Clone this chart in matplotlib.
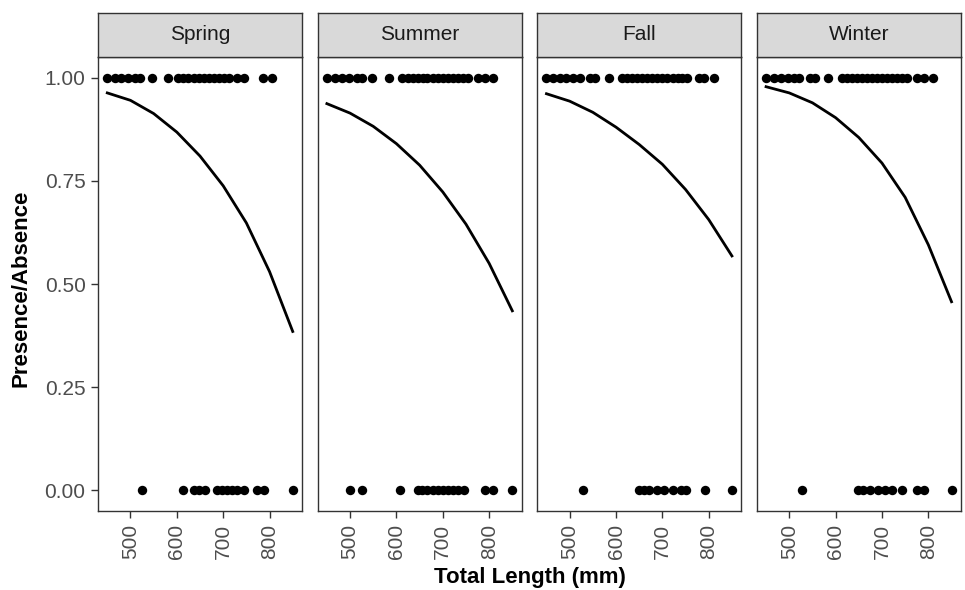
import matplotlib
matplotlib.use("Agg")
import matplotlib.pyplot as plt

plt.rcParams['font.family'] = ['Liberation Sans', 'DejaVu Sans']

seasons = ["Spring", "Summer", "Fall", "Winter"]

# total length (mm) of fish present (1) / absent (0)
present = {
    "Spring": [450, 466, 480, 495, 509, 520, 546, 582, 603, 614, 625, 636, 647, 658,
               669, 680, 690, 701, 712, 730, 745, 785, 806],
    "Summer": [450, 468, 483, 497, 515, 526, 548, 584, 613, 624, 635, 646, 657, 667,
               678, 689, 700, 711, 722, 733, 743, 754, 776, 790, 809],
    "Fall": [450, 464, 479, 493, 508, 522, 544, 555, 584, 613, 624, 635, 646, 657,
             667, 678, 689, 700, 711, 722, 733, 743, 754, 780, 790, 811],
    "Winter": [450, 468, 483, 497, 511, 522, 544, 555, 584, 613, 624, 635, 646, 657,
               667, 678, 689, 700, 711, 722, 733, 743, 754, 776, 790, 811],
}
absent = {
    "Spring": [524, 613, 636, 647, 661, 686, 697, 708, 719, 730, 745, 774, 788, 850],
    "Summer": [499, 526, 608, 646, 656, 667, 678, 689, 700, 711, 722, 733, 746, 790, 809, 850],
    "Fall": [528, 649, 660, 671, 689, 703, 722, 740, 751, 792, 850],
    "Winter": [528, 649, 660, 674, 692, 707, 722, 743, 776, 790, 850],
}

# fitted curve, read at these lengths
fit_x = [450, 500, 550, 600, 650, 700, 750, 800, 850]
fit_y = {
    "Spring": [0.963, 0.945, 0.913, 0.868, 0.810, 0.738, 0.648, 0.530, 0.385],
    "Summer": [0.937, 0.914, 0.882, 0.840, 0.788, 0.723, 0.645, 0.550, 0.435],
    "Fall": [0.961, 0.943, 0.916, 0.880, 0.838, 0.790, 0.729, 0.656, 0.568],
    "Winter": [0.978, 0.963, 0.939, 0.903, 0.855, 0.793, 0.710, 0.595, 0.457],
}

y_ticks = [0.0, 0.25, 0.5, 0.75, 1.0]
y_labels = ["0.00", "0.25", "0.50", "0.75", "1.00"]
x_ticks = [500, 600, 700, 800]

W, H = 965, 590
fig = plt.figure(figsize=(W / 100, H / 100), dpi=100)

edge = "#333333"
tick_col = "#4D4D4D"
fs = 15
for i, s in enumerate(seasons):
    left = 98 + i * 219.6
    ax = fig.add_axes([left / W, 1 - 511 / H, 204 / W, 454 / H])
    ax.scatter(present[s], [1] * len(present[s]), s=46, color="black", lw=0, zorder=3)
    ax.scatter(absent[s], [0] * len(absent[s]), s=46, color="black", lw=0, zorder=3)
    ax.plot(fit_x, fit_y[s], color="black", lw=2.0, solid_joinstyle="round")
    ax.set_xlim(430, 870)
    ax.set_ylim(-0.05, 1.05)
    ax.set_xticks(x_ticks)
    ax.set_xticklabels([str(t) for t in x_ticks], rotation=90, fontsize=fs, color=tick_col)
    ax.set_yticks(y_ticks)
    if i == 0:
        ax.set_yticklabels(y_labels, fontsize=fs, color=tick_col)
    else:
        ax.tick_params(axis="y", left=False, labelleft=False)
    ax.tick_params(colors=edge, length=5, width=1, pad=4, labelcolor=tick_col)
    for sp in ax.spines.values():
        sp.set_color(edge)
        sp.set_linewidth(1)

    # facet strip
    sax = fig.add_axes([left / W, 1 - 57 / H, 204 / W, 44 / H])
    sax.set_facecolor("#D9D9D9")
    sax.set_xticks([])
    sax.set_yticks([])
    for sp in sax.spines.values():
        sp.set_color(edge)
        sp.set_linewidth(1)
    sax.text(0.5, 0.5, s, ha="center", va="center", fontsize=fs, color="#1A1A1A",
             transform=sax.transAxes)

fig.text(530 / W, 1 - 577 / H, "Total Length (mm)", ha="center", va="center",
         fontsize=16, fontweight="bold")
fig.text(21 / W, 1 - 288 / H, "Presence/Absence", ha="center", va="center",
         rotation=90, fontsize=16, fontweight="bold")

fig.savefig("out.png", dpi=100)
